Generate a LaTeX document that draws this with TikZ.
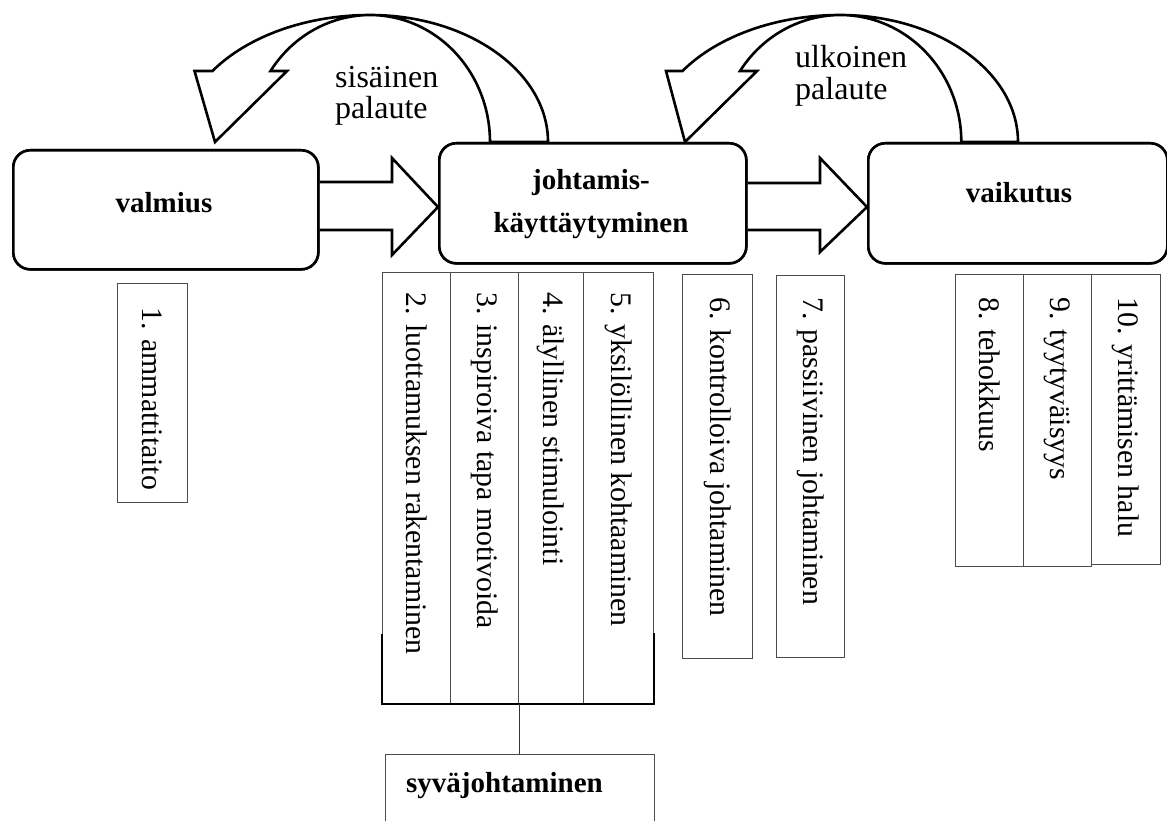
\documentclass[tikz,border=0pt]{standalone}
\usepackage{fontspec}
\setmainfont{Liberation Serif}
\begin{document}
\begin{tikzpicture}[x=1pt,y=-1pt,
  mainbox/.style={draw, line width=2.6pt, rounded corners=17pt, inner sep=0pt},
  colbox/.style={draw=black!70, line width=1.1pt, inner sep=0pt},
  vtext/.style={rotate=-90, anchor=west, inner sep=0pt, font=\fontsize{29.8}{34}\selectfont},
  btext/.style={inner sep=0pt, font=\fontsize{29}{34}\selectfont\bfseries},
  fbtext/.style={inner sep=0pt, anchor=base west, font=\fontsize{32}{36}\selectfont},
  blockarrow/.style={draw, line width=2.6pt, fill=white, line join=miter},
  bracket/.style={line width=2.2pt},
  thinline/.style={draw=black!80, line width=1.2pt}]
\useasboundingbox (0,0) rectangle (1167,821);

% main boxes (positions)
\node[mainbox, minimum width=305pt, minimum height=119pt, anchor=north west] (valmius) at (12,149) {};
\node[mainbox, minimum width=307pt, minimum height=120pt, anchor=north west] (johtamis) at (438,142) {};
\node[mainbox, minimum width=299pt, minimum height=120pt, anchor=north west] (vaikutus) at (867,142) {};

% curved feedback arrows
\draw[blockarrow] ([xshift=110pt]johtamis.north west)
  arc[start angle=0, end angle=90, x radius=178pt, y radius=127pt]
  arc[start angle=90, end angle=146, x radius=190pt, y radius=127pt]
  -- (194.5,71) -- (215,142) -- (287,71) -- (270.5,71)
  arc[start angle=146, end angle=0, x radius=120pt, y radius=127pt]
  -- cycle;
\draw[blockarrow] ([xshift=151pt]vaikutus.north west)
  arc[start angle=0, end angle=90, x radius=178pt, y radius=127pt]
  arc[start angle=90, end angle=146, x radius=190pt, y radius=127pt]
  -- (666,71) -- (685,142) -- (757,71) -- (740,71)
  arc[start angle=146, end angle=0, x radius=121pt, y radius=127pt]
  -- cycle;

% straight block arrows
\draw[blockarrow] (valmius.east |- 0,182) -- (392,182) -- (392,158) -- (johtamis.west |- 0,207)
  -- (392,255) -- (392,230) -- (valmius.east |- 0,230);
\draw[blockarrow] (johtamis.east |- 0,183) -- (820,183) -- (820,158) -- (vaikutus.west |- 0,207)
  -- (820,252) -- (820,230) -- (johtamis.east |- 0,230);

% redraw boxes on top
\node[mainbox, fill=white, minimum width=305pt, minimum height=119pt, anchor=north west] at (12,149) {};
\node[mainbox, fill=white, minimum width=307pt, minimum height=120pt, anchor=north west] at (438,142) {};
\node[mainbox, fill=white, minimum width=299pt, minimum height=120pt, anchor=north west] at (867,142) {};

% box texts
\node[btext, anchor=base] (valmiusText) at (164,212) {valmius};
\node[btext, anchor=base] (johtText1) at (591,190) {johtamis-};
\node[btext, anchor=base] (johtText2) at (591,233) {käyttäytyminen};
\node[btext, anchor=base] (vaikText) at (1019,203) {vaikutus};

% feedback labels
\node[fbtext] (sis1) at (335,88) {sisäinen};
\node[fbtext] (sis2) at (335,119) {palaute};
\node[fbtext] (ulk1) at (795,68) {ulkoinen};
\node[fbtext] (ulk2) at (795,100) {palaute};

% columns
\node[colbox, minimum width=70pt, minimum height=219pt, anchor=north west] (c1) at (117,283) {};
\node[colbox, minimum width=68pt, minimum height=431pt, anchor=north west] (c2) at (382,272) {};
\node[colbox, minimum width=68pt, minimum height=431pt, anchor=north west] (c3) at (450,272) {};
\node[colbox, minimum width=65pt, minimum height=431pt, anchor=north west] (c4) at (518,272) {};
\node[colbox, minimum width=70pt, minimum height=431pt, anchor=north west] (c5) at (583,272) {};
\node[colbox, minimum width=70pt, minimum height=384pt, anchor=north west] (c6) at (682,274) {};
\node[colbox, minimum width=68pt, minimum height=382pt, anchor=north west] (c7) at (776,275) {};
\node[colbox, minimum width=68pt, minimum height=292pt, anchor=north west] (c8) at (955,274) {};
\node[colbox, minimum width=68pt, minimum height=292pt, anchor=north west] (c9) at (1023,274) {};
\node[colbox, minimum width=69pt, minimum height=290pt, anchor=north west] (c10) at (1091,274) {};

\draw[bracket] (c2.south west) ++(0,-70) -- (c2.south west) -- (c5.south east) -- ++(0,-71);

\node[vtext] (t1) at ([yshift=-24pt]c1.north) {1. ammattitaito};
\node[vtext] (t2) at ([yshift=-20pt]c2.north) {2. luottamuksen rakentaminen};
\node[vtext] (t3) at ([yshift=-20pt]c3.north) {3. inspiroiva tapa motivoida};
\node[vtext] (t4) at ([yshift=-20pt]c4.north) {4. älyllinen stimulointi};
\node[vtext] (t5) at ([yshift=-20pt]c5.north) {5. yksilöllinen kohtaaminen};
\node[vtext] (t6) at ([yshift=-23pt]c6.north) {6. kontrolloiva johtaminen};
\node[vtext] (t7) at ([yshift=-22pt]c7.north) {7. passiivinen johtaminen};
\node[vtext] (t8) at ([yshift=-23pt]c8.north) {8. tehokkuus};
\node[vtext] (t9) at ([yshift=-23pt]c9.north) {9. tyytyväisyys};
\node[vtext] (t10) at ([yshift=-23pt]c10.north) {10. yrittämisen halu};

% syväjohtaminen
\node[colbox, minimum width=269pt, minimum height=100pt, anchor=north west] (syva) at (385,754) {};
\draw[thinline] (c3.south east) -- (c3.south east |- syva.north);
\node[btext, anchor=base west] (syvaText) at (406,792) {syväjohtaminen};
\end{tikzpicture}
\end{document}
